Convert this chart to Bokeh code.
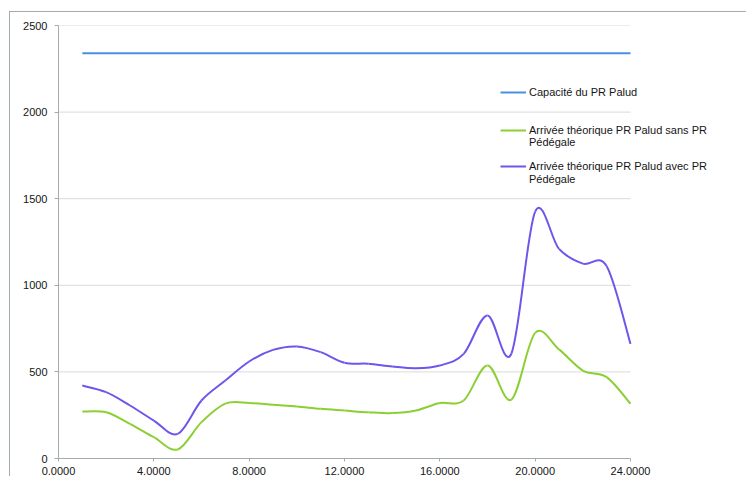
import numpy as np
from bokeh.plotting import figure
from bokeh.models import Legend, LegendItem, FixedTicker, Range1d, ColumnDataSource
from bokeh.embed import file_html
from bokeh.resources import INLINE

# ---- data ----
hours = [1, 2, 3, 4, 5, 6, 7, 8, 9, 10, 11, 12,
         13, 14, 15, 16, 17, 18, 19, 20, 21, 22, 23, 24]
capacite = [2340, 2340, 2340, 2340, 2340, 2340, 2340, 2340, 2340, 2340, 2340, 2340,
            2340, 2340, 2340, 2340, 2340, 2340, 2340, 2340, 2340, 2340, 2340, 2340]
sans_pedegale = [271, 267, 200, 123, 52, 210, 317, 321, 310, 300, 287, 277,
                 267, 262, 277, 320, 335, 537, 340, 725, 630, 508, 470, 316]
avec_pedegale = [421, 383, 306, 219, 142, 335, 450, 560, 627, 647, 614, 553,
                 547, 531, 521, 537, 604, 826, 605, 1425, 1210, 1125, 1110, 662]

x_ticks = [0, 4, 8, 12, 16, 20, 24]
x_tick_labels = ["0.0000", "4.0000", "8.0000", "12.0000", "16.0000", "20.0000", "24.0000"]
y_ticks = [0, 500, 1000, 1500, 2000, 2500]
y_tick_labels = ["0", "500", "1000", "1500", "2000", "2500"]

series_labels = ["Capacité du PR Palud",
                 "Arrivée théorique PR Palud sans PR",
                 "Arrivée théorique PR Palud avec PR"]
label_continuation = "Pédégale"

BLUE = "#4a8fe6"
GREEN = "#8ccf34"
PURPLE = "#7055ea"
AXIS = "#a3acac"
TEXT = "#151515"
FONT = "Liberation Sans"


def smooth_source(xs, ys):
    """Bezier segments through the data points (Catmull-Rom style, like a smoothed Excel line)."""
    x = np.asarray(xs, dtype=float)
    y = np.asarray(ys, dtype=float)
    n = len(x)
    xp = np.concatenate([[x[0]], x, [x[-1]]])
    yp = np.concatenate([[y[0]], y, [y[-1]]])
    cx0 = x[:-1] + (xp[2:n + 1] - xp[0:n - 1]) / 6.0
    cy0 = y[:-1] + (yp[2:n + 1] - yp[0:n - 1]) / 6.0
    cx1 = x[1:] - (xp[3:n + 2] - xp[1:n]) / 6.0
    cy1 = y[1:] - (yp[3:n + 2] - yp[1:n]) / 6.0
    return ColumnDataSource(dict(x0=x[:-1], y0=y[:-1], x1=x[1:], y1=y[1:],
                                 cx0=cx0, cy0=cy0, cx1=cx1, cy1=cy1))


# plot area: x 0..24 spans 572 px; the frame is widened to the right to hold the legend
x_end = x_ticks[-1] * 672.0 / 572.0

p = figure(width=737, height=465,
           x_range=Range1d(x_ticks[0], x_end), y_range=Range1d(y_ticks[0], y_ticks[-1]),
           output_backend="svg", toolbar_location=None,
           min_border_left=48, min_border_right=17,
           min_border_top=13, min_border_bottom=14)
p.styles = {"margin-left": "9px", "margin-top": "11px",
            "border-left": "1px solid " + AXIS, "border-top": "1px solid " + AXIS}
p.outline_line_color = None
p.background_fill_color = "white"
p.border_fill_color = "white"

# axes
p.xaxis.ticker = FixedTicker(ticks=x_ticks)
p.xaxis.major_label_overrides = dict(zip(x_ticks, x_tick_labels))
p.xaxis.bounds = (x_ticks[0], x_ticks[-1])
p.yaxis.ticker = FixedTicker(ticks=y_ticks)
p.yaxis.major_label_overrides = dict(zip(y_ticks, y_tick_labels))
for ax in (p.xaxis, p.yaxis):
    ax.axis_line_color = AXIS
    ax.major_tick_line_color = AXIS
    ax.minor_tick_line_color = None
    ax.major_tick_in = 0
    ax.major_label_text_font = FONT
    ax.major_label_text_font_size = "11px"
    ax.major_label_text_color = TEXT
p.xaxis.major_tick_out = 3
p.xaxis.major_label_standoff = 5
p.yaxis.major_tick_out = 4
p.yaxis.major_label_standoff = 7

# horizontal gridlines only over the 0..24 plot area
p.xgrid.grid_line_color = None
p.ygrid.grid_line_color = None
p.segment(x0=[x_ticks[0]] * len(y_ticks), x1=[x_ticks[-1]] * len(y_ticks),
          y0=y_ticks, y1=y_ticks,
          line_color="#dadada", line_width=1, level="underlay")

# series
p.line(hours, capacite, line_color=BLUE, line_width=2)
p.bezier(x0="x0", y0="y0", x1="x1", y1="y1", cx0="cx0", cy0="cy0", cx1="cx1", cy1="cy1",
         source=smooth_source(hours, sans_pedegale), line_color=GREEN, line_width=2)
p.bezier(x0="x0", y0="y0", x1="x1", y1="y1", cx0="cx0", cy0="cy0", cx1="cx1", cy1="cy1",
         source=smooth_source(hours, avec_pedegale), line_color=PURPLE, line_width=2)

# legend proxies (one invisible point each, so the legend can draw their line sample)
lg_blue = p.line([np.nan], [np.nan], line_color=BLUE, line_width=2)
lg_green = p.line([np.nan], [np.nan], line_color=GREEN, line_width=2)
lg_purple = p.line([np.nan], [np.nan], line_color=PURPLE, line_width=2)
lg_blank = p.line([], [], line_alpha=0)


def make_legend(items, loc, spacing=0):
    leg = Legend(items=items, location=loc)
    leg.border_line_color = None
    leg.background_fill_alpha = 0
    leg.padding = 0
    leg.margin = 0
    leg.spacing = spacing
    leg.glyph_width = 26
    leg.glyph_height = 12
    leg.label_height = 12
    leg.label_standoff = 3
    leg.label_text_font = FONT
    leg.label_text_font_size = "11px"
    leg.label_text_color = TEXT
    return leg


p.add_layout(make_legend([LegendItem(label=series_labels[0], renderers=[lg_blue])],
                         (442, 360)), "center")
p.add_layout(make_legend([LegendItem(label=series_labels[1], renderers=[lg_green]),
                          LegendItem(label=label_continuation, renderers=[lg_blank])],
                         (442, 310)), "center")
p.add_layout(make_legend([LegendItem(label=series_labels[2], renderers=[lg_purple]),
                          LegendItem(label=label_continuation, renderers=[lg_blank])],
                         (442, 273), spacing=1), "center")

open("out.html", "w").write(file_html(p, INLINE))
